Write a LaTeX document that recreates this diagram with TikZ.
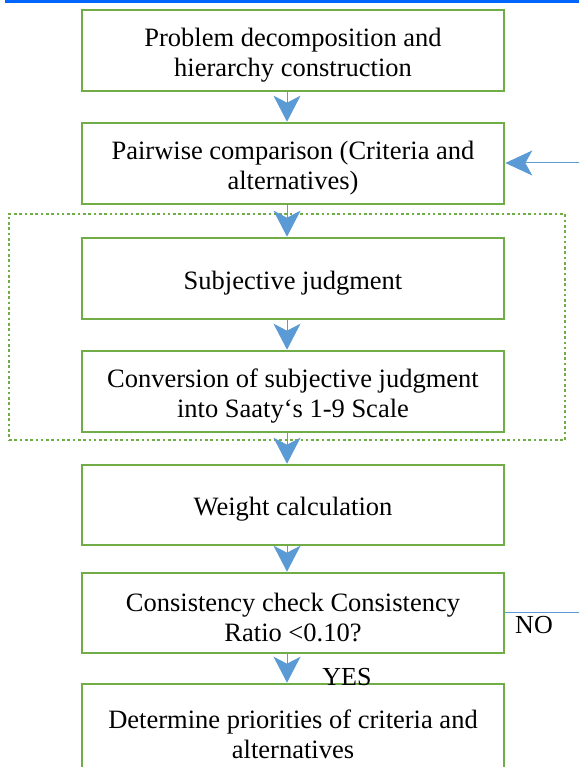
\documentclass[tikz,border=0pt]{standalone}
\usepackage{fontspec}
\setmainfont{Liberation Serif}
\usetikzlibrary{arrows.meta}
\definecolor{boxgreen}{HTML}{70AD47}
\definecolor{arrblue}{HTML}{5B9BD5}
\definecolor{topblue}{HTML}{0066FF}
\newcommand\bxtxt[1]{\raisebox{-4.5pt}[\height][\depth]{\parbox{410pt}{\centering\fontsize{26.5pt}{30pt}\selectfont #1}}}
\tikzset{
  stepbox/.style={draw=boxgreen, line width=2.6pt, rectangle, minimum width=422pt,
    minimum height=81pt, inner sep=0pt},
  flowarr/.style={draw=arrblue, line width=1pt,
    -{Stealth[length=26pt, width=27pt, inset=7pt, fill=arrblue]}},
  lbl/.style={font=\fontsize{26pt}{30pt}\selectfont, inner sep=0pt},
}
\begin{document}
\begin{tikzpicture}[x=1pt,y=-1pt]
\clip (0,0) rectangle (579,767);
\fill[white] (0,0) rectangle (579,767);
% top blue rule
\coordinate (tl) at (5,1.7);
\coordinate (tr) at (579,1.7);
\draw[topblue, line width=3.6pt] (tl) -- (tr);
% dotted grouping frame
\node[draw=boxgreen, line width=2.6pt, dash pattern=on 2.6pt off 2.7pt,
  minimum width=556pt, minimum height=226pt, inner sep=0pt] (grp) at (287,327) {};
% boxes
\node[stepbox] (b1) at (293,50.5) {\bxtxt{Problem decomposition and\\hierarchy construction}};
\node[stepbox] (b2) at (293,163.5) {\bxtxt{Pairwise comparison (Criteria and\\alternatives)}};
\node[stepbox] (b3) at (293,278.5) {\bxtxt{Subjective judgment}};
\node[stepbox] (b4) at (293,391.5) {\bxtxt{Conversion of subjective judgment\\into Saaty‘s 1-9 Scale}};
\node[stepbox, minimum height=80pt] (b5) at (293,505) {\bxtxt{Weight calculation}};
\node[stepbox, minimum height=80pt] (b6) at (293,613) {\bxtxt{Consistency check Consistency\\Ratio <0.10?}};
\node[stepbox, minimum height=92pt] (b7) at (293,730) {\bxtxt{Determine priorities of criteria and\\alternatives}};
% arrows
\draw[flowarr] ([xshift=-6pt]b1.south) -- ([xshift=-6pt]b2.north);
\draw[flowarr] ([xshift=-6pt]b2.south) -- ([xshift=-6pt]b3.north);
\draw[flowarr] ([xshift=-6pt]b3.south) -- ([xshift=-6pt]b4.north);
\draw[flowarr] ([xshift=-6pt]b4.south) -- ([xshift=-6pt]b5.north);
\draw[flowarr] ([xshift=-6pt]b5.south) -- ([xshift=-6pt]b6.north);
\draw[flowarr] ([xshift=-6pt]b6.south) -- ([xshift=-6pt]b7.north);
% feedback
\coordinate (fbin) at (580,163);
\coordinate (fbout) at (580,612);
\draw[flowarr, -{Stealth[length=27pt, width=25pt, inset=7pt, fill=arrblue]}] (fbin) -- (b2.east |- fbin);
\draw[arrblue, line width=1pt] (b6.east |- fbout) -- (fbout);
% labels
\node[lbl] (no) at (534,625) {NO};
\node[lbl] (yes) at (347,677) {YES};
\end{tikzpicture}
\end{document}
